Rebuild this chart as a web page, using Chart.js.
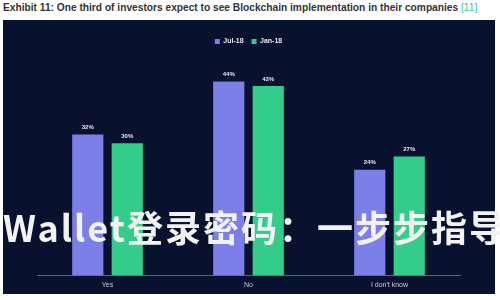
<!DOCTYPE html>
<html>
<head>
<meta charset="utf-8">
<script src="https://cdn.jsdelivr.net/npm/chart.js"></script>
<style>
  body { margin: 0; background: #fff; width: 500px; height: 300px; overflow: hidden; position: relative; }
  #title { position: absolute; left: 3px; top: 2px; font: bold 10.2px "Liberation Sans", Arial, sans-serif; color: #333; white-space: nowrap; }
  #title span { color: #3cc9a0; font-weight: normal; }
  #panel { position: absolute; left: 3px; top: 20px; width: 492px; height: 274px; background: #08112e; }
  #mark { position: absolute; left: 3px; top: 200px; font: bold 36px "Noto Sans CJK SC", sans-serif; color: #f2f2f2; white-space: nowrap; letter-spacing: 2px; }
</style>
</head>
<body>
<div id="title">Exhibit 11: One third of investors expect to see Blockchain implementation in their companies <span>[11]</span></div>
<div id="panel"><canvas id="chart" width="492" height="274"></canvas></div>
<div id="mark">Wallet登录密码：一步步指导</div>
<script>
/* categories and series */
const categories = ['Yes', 'No', "I don't know"];
const jul18 = [32, 44, 24];
const jan18 = [30, 43, 27];

// draws the % labels above each bar
const valueLabels = {
    id: 'valueLabels',
    afterDatasetsDraw(chart) {
        const ctx = chart.ctx;
        ctx.save();
        ctx.fillStyle = '#e8eaf2';
        ctx.font = 'bold 6px "Liberation Sans", Arial, sans-serif';
        ctx.textAlign = 'center';
        ctx.textBaseline = 'bottom';
        chart.data.datasets.forEach((ds, i) => {
            chart.getDatasetMeta(i).data.forEach((bar, j) => {
                ctx.fillText(ds.data[j] + '%', bar.x, bar.y - 4);
            });
        });
        ctx.restore();
    }
};

const myChart = new Chart(document.getElementById('chart'), {
    type: 'bar',
    data: {
        labels: categories,
        datasets: [
            { label: 'Jul-18', data: jul18, backgroundColor: '#7d7fe8' },
            { label: 'Jan-18', data: jan18, backgroundColor: '#33cc8b' }
        ]
    },
    options: {
        responsive: false,
        animation: false,
        maintainAspectRatio: false,
        categoryPercentage: 0.56,
        barPercentage: 0.79,
        layout: { padding: { left: 34, right: 35, top: 10, bottom: 0 } },
        scales: {
            x: {
                grid: { display: false, drawTicks: false },
                border: { display: true, color: '#5d6485' },
                ticks: { color: '#c9ccd9', font: { size: 7, family: 'Liberation Sans' }, padding: 5 }
            },
            y: { display: false, min: 0, max: 50 }
        },
        plugins: {
            legend: {
                display: true,
                position: 'top',
                labels: {
                    color: '#e8eaf2',
                    boxWidth: 5,
                    boxHeight: 5,
                    padding: 8,
                    font: { size: 7, weight: 'bold', family: 'Liberation Sans' }
                }
            },
            tooltip: { enabled: false }
        }
    },
    plugins: [valueLabels]
});
</script>
</body>
</html>
